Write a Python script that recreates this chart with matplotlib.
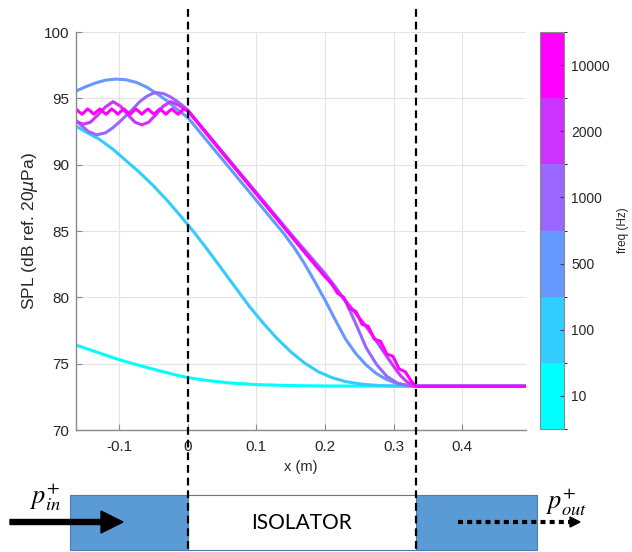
import numpy as np
import matplotlib
matplotlib.use('Agg')
import matplotlib.pyplot as plt
from matplotlib.colors import ListedColormap, BoundaryNorm
import matplotlib.colorbar as mcolorbar
from matplotlib.patches import Rectangle, FancyArrow, Polygon

plt.rcParams['font.family'] = ['Liberation Sans', 'DejaVu Sans']

# ---------------- data ----------------
freq_labels = ['10', '100', '500', '1000', '2000', '10000']
colors = ['#00ffff', '#33ccff', '#6699ff', '#9966ff', '#cc33ff', '#ff00ff']
iso_start = 0.0
iso_end = 0.332
x_min, x_max = -0.163, 0.493

x_10 = [-0.163, -0.14, -0.12, -0.10, -0.08, -0.06, -0.04, -0.02, 0.0, 0.03, 0.06,
        0.10, 0.15, 0.20, 0.332, 0.493]
y_10 = [76.4, 76.0, 75.65, 75.3, 75.0, 74.72, 74.45, 74.18, 73.95, 73.72, 73.55,
        73.42, 73.35, 73.32, 73.3, 73.3]

x_100 = [-0.163, -0.15, -0.13, -0.11, -0.09, -0.07, -0.05, -0.03, -0.01, 0.01, 0.03,
         0.05, 0.07, 0.09, 0.11, 0.13, 0.15, 0.17, 0.19, 0.21, 0.23, 0.25, 0.27,
         0.29, 0.332, 0.493]
y_100 = [92.9, 92.5, 91.95, 91.2, 90.3, 89.4, 88.4, 87.3, 86.1, 84.85, 83.5,
         82.1, 80.7, 79.3, 78.05, 76.9, 75.9, 75.05, 74.4, 73.95, 73.65, 73.48, 73.38,
         73.33, 73.3, 73.3]

x_500 = [-0.163, -0.15, -0.135, -0.12, -0.105, -0.09, -0.075, -0.06, -0.045, -0.03,
         -0.015, 0.0, 0.02, 0.04, 0.06, 0.08, 0.10, 0.12, 0.14, 0.155, 0.17, 0.185,
         0.20, 0.215, 0.23, 0.245, 0.26, 0.275, 0.29, 0.305, 0.32, 0.332, 0.493]
y_500 = [95.55, 95.85, 96.15, 96.37, 96.45, 96.4, 96.2, 95.85, 95.35, 94.8,
         94.15, 93.55, 92.3, 91.05, 89.8, 88.55, 87.3, 86.05, 84.8, 83.75, 82.55, 81.2,
         79.8, 78.3, 76.85, 75.75, 74.9, 74.25, 73.8, 73.5, 73.35, 73.3, 73.3]

x_1000 = [-0.163, -0.155, -0.145, -0.133, -0.12, -0.11, -0.10, -0.09, -0.08, -0.07,
          -0.06, -0.05, -0.045, -0.035, -0.025, -0.015, -0.005, 0.0, 0.05, 0.10,
          0.15, 0.20, 0.215, 0.23, 0.245, 0.26, 0.275, 0.29, 0.305, 0.32, 0.332, 0.493]
y_1000 = [93.35, 92.95, 92.5, 92.25, 92.4, 92.75, 93.2, 93.7, 94.2, 94.75,
          95.15, 95.4, 95.43, 95.35, 95.1, 94.75, 94.35, 94.1, 91.0, 87.9,
          84.8, 81.8, 80.8, 79.7, 78.0, 76.2, 74.95, 74.05, 73.55, 73.35, 73.3, 73.3]

x_2000 = [-0.163, -0.152, -0.142, -0.131, -0.12, -0.109, -0.098, -0.088, -0.077,
          -0.067, -0.057, -0.046, -0.036, -0.025, -0.014, -0.005, 0.0, 0.05, 0.10,
          0.15, 0.20, 0.22, 0.24, 0.26, 0.275, 0.29, 0.30, 0.31, 0.32, 0.332, 0.493]
y_2000 = [93.25, 93.05, 93.2, 93.75, 94.35, 94.75, 94.4, 93.8, 93.2,
          93.0, 93.2, 93.8, 94.4, 94.75, 94.5, 94.2, 94.1, 90.95, 87.8,
          84.7, 81.6, 80.35, 79.1, 77.8, 76.7, 75.55, 74.8, 74.1, 73.6, 73.3, 73.3]

x_10000 = [-0.163, -0.159, -0.154, -0.150, -0.146, -0.141, -0.137, -0.133, -0.128,
           -0.124, -0.119, -0.115, -0.111, -0.106, -0.102, -0.098, -0.093, -0.089,
           -0.084, -0.080, -0.076, -0.071, -0.067, -0.063, -0.058, -0.054, -0.049,
           -0.045, -0.041, -0.036, -0.032, -0.028, -0.023, -0.019, -0.014, -0.010,
           -0.006, -0.002, 0.0, 0.02, 0.05, 0.10, 0.15, 0.20, 0.209, 0.218, 0.227,
           0.236, 0.245, 0.254, 0.263, 0.272, 0.281, 0.29, 0.299, 0.308, 0.317,
           0.325, 0.332, 0.493]
y_10000 = [94.2, 94.0, 93.8, 94.0, 94.2, 94.0, 93.8, 94.0, 94.2,
           94.0, 93.8, 94.0, 94.2, 94.0, 93.8, 94.0, 94.2, 94.0,
           93.8, 94.0, 94.2, 94.0, 93.8, 94.0, 94.2, 94.0, 93.8,
           94.0, 94.2, 94.0, 93.8, 94.0, 94.2, 94.0, 93.8, 94.0,
           94.2, 94.1, 94.05, 92.8, 90.9, 87.8, 84.65, 81.55, 81.09, 80.32, 80.01,
           79.15, 78.94, 77.97, 77.81, 76.85, 76.69, 75.73, 75.56, 74.6, 74.39,
           73.74, 73.3, 73.3]

series_x = [x_10, x_100, x_500, x_1000, x_2000, x_10000]
series_y = [y_10, y_100, y_500, y_1000, y_2000, y_10000]

x_ticks = [-0.1, 0, 0.1, 0.2, 0.3, 0.4]
x_ticklabels = ['-0.1', '0', '0.1', '0.2', '0.3', '0.4']
y_ticks = [70, 75, 80, 85, 90, 95, 100]

# ---------------- figure ----------------
W, H = 632, 552
fig = plt.figure(figsize=(W / 100, H / 100), dpi=100)
ax = fig.add_axes([76 / W, 1 - 430 / H, 450 / W, 398 / H])

for xs, ys, c in zip(series_x, series_y, colors):
    ax.plot(xs, ys, color=c, lw=2.2, solid_joinstyle='round', solid_capstyle='round')

ax.set_xlim(x_min, x_max)
ax.set_ylim(70, 100)
ax.set_xticks(x_ticks)
ax.set_xticklabels(x_ticklabels)
ax.set_yticks(y_ticks)
ax.grid(True, color='#e3e3e3', lw=0.8)
ax.set_axisbelow(True)
for s in ['top', 'right']:
    ax.spines[s].set_visible(False)
for s in ['left', 'bottom']:
    ax.spines[s].set_color('#8a8a8a')
    ax.spines[s].set_linewidth(1.0)
ax.tick_params(direction='in', length=4, color='#8a8a8a', labelsize=11,
               labelcolor='#262626')
ax.tick_params(axis='x', pad=7)
ax.tick_params(axis='y', pad=5)
ax.set_xlabel('x (m)', fontsize=10.5, color='#262626')
ax.xaxis.set_label_coords(0.5, -0.075)
ax.set_ylabel(r'SPL (dB ref. 20$\mu$Pa)', fontsize=12.5, color='#262626')
ax.yaxis.set_label_coords(-0.08, 0.5)

# colorbar
cax = fig.add_axes([540 / W, 1 - 429 / H, 24 / W, 397 / H])
cmap = ListedColormap(colors)
norm = BoundaryNorm(np.arange(len(colors) + 1), len(colors))
cb = mcolorbar.ColorbarBase(cax, cmap=cmap, norm=norm,
                            ticks=np.arange(len(colors)) + 0.5)
cb.set_ticklabels(freq_labels)
cb.outline.set_edgecolor('#8a8a8a')
cb.outline.set_linewidth(0.8)
cax.tick_params(direction='in', length=3, color='#404040', labelsize=10,
                labelcolor='#262626', pad=5)
fig.text(623 / W, 1 - 230 / H, 'freq (Hz)', rotation=90, fontsize=8.5,
         ha='center', va='center', color='#262626')

# ---------------- diagram overlay (pixel coords) ----------------
axd = fig.add_axes([0, 0, 1, 1])
axd.set_xlim(0, W)
axd.set_ylim(H, 0)
axd.axis('off')

px0 = ax.transData.transform((iso_start, 80))[0]
px1 = ax.transData.transform((iso_end, 80))[0]

box_top, box_bot = 495, 550
blue = '#5b9bd5'
edge = '#4a7ab0'
axd.add_patch(Rectangle((70, box_top), px0 - 70, box_bot - box_top,
                        facecolor=blue, edgecolor=edge, lw=0.8))
axd.add_patch(Rectangle((px1, box_top), 537 - px1, box_bot - box_top,
                        facecolor=blue, edgecolor=edge, lw=0.8))
axd.add_patch(Rectangle((px0, box_top), px1 - px0, box_bot - box_top,
                        facecolor='white', edgecolor=edge, lw=0.8))

for p in (px0, px1):
    axd.plot([p, p], [9, 551], color='black', lw=1.6, ls=(0, (3.5, 2.2)))

axd.text((px0 + px1) / 2, 523, 'ISOLATOR', fontsize=15, ha='center', va='center',
         family=['Lato', 'DejaVu Sans'], color='black')

axd.add_patch(FancyArrow(10, 522, 113, 0, width=5, head_width=22, head_length=22,
                         length_includes_head=True, color='black'))
axd.plot([458, 571], [522, 522], color='black', lw=3.0, ls=(0, (1.2, 1.0)),
         solid_capstyle='butt')
axd.add_patch(Polygon([(570, 517), (580, 522), (570, 527)], closed=True,
                      color='black'))

axd.text(46, 497, r'$p_{in}^{+}$', fontsize=19, math_fontfamily='stix',
         ha='center', va='center')
axd.text(567, 502, r'$p_{out}^{+}$', fontsize=19, math_fontfamily='stix',
         ha='center', va='center')

fig.savefig('out.png', dpi=100)
